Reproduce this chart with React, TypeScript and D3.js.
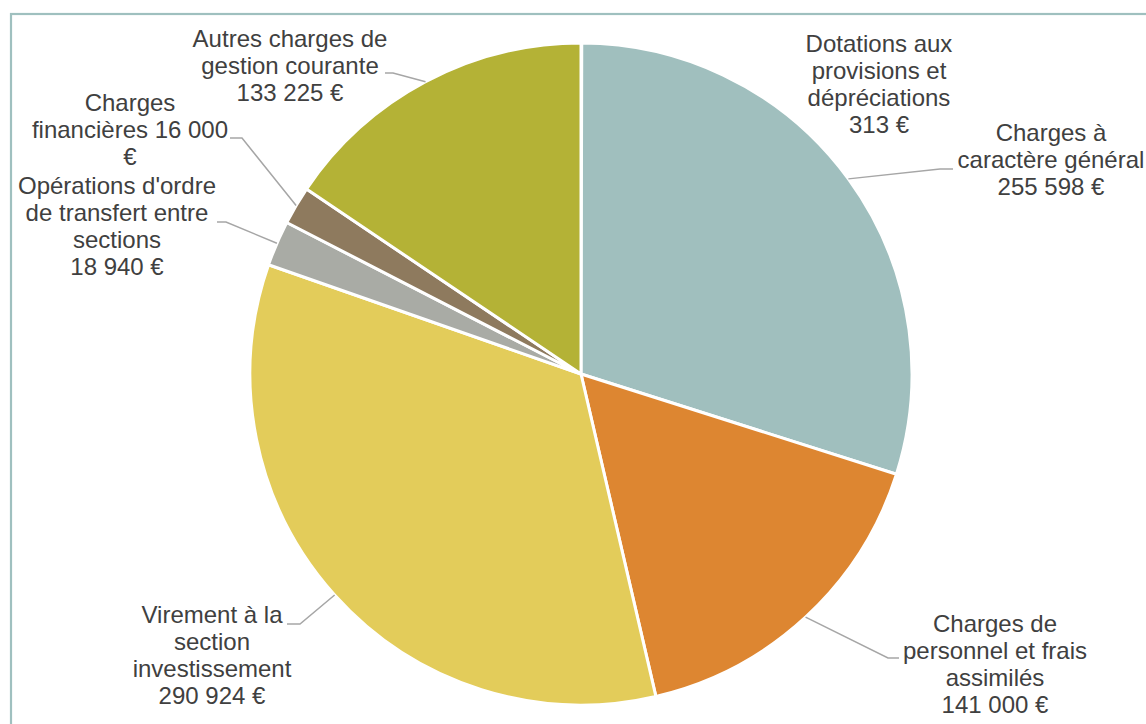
import React, { useEffect, useRef } from 'react';
import * as d3 from 'd3';

// Budget de fonctionnement - dépenses
const categories = [
  "Dotations aux provisions et dépréciations",
  "Charges à caractère général",
  "Charges de personnel et frais assimilés",
  "Virement à la section investissement",
  "Opérations d'ordre de transfert entre sections",
  "Charges financières",
  "Autres charges de gestion courante",
];
const values = [313, 255598, 141000, 290924, 18940, 16000, 133225];
const colors = ["#8fb0af", "#a0bfbe", "#dd8631", "#e3cc5a", "#a9aba5", "#8e7a5e", "#b4b236"];

// label placement (as in the original chart), words per line
const labelLayout = [
  { cx: 879, y: 52, words: [2, 2, 1, 2], leader: null },
  { cx: 1051, y: 141, words: [2, 2, 3], leader: { x: 953, elbowX: 940, y: 169 } },
  { cx: 995, y: 632, words: [2, 3, 1, 3], leader: { x: 899, elbowX: 888, y: 658 } },
  { cx: 212, y: 623, words: [3, 1, 1, 3], leader: { x: 287, elbowX: 300, y: 624 } },
  { cx: 117, y: 194, words: [2, 3, 1, 3], leader: { x: 217, elbowX: 226, y: 222 } },
  { cx: 130, y: 111, words: [1, 3, 1], leader: { x: 230, elbowX: 242, y: 138 } },
  { cx: 290, y: 47, words: [3, 2, 3], leader: { x: 385, elbowX: 393, y: 73 } },
];

const width = 1146;
const height = 724;
const cx = 581;
const cy = 374;
const radius = 331;
const lineHeight = 27;

const frLocale = d3.formatLocale({ decimal: ",", thousands: " ", grouping: [3], currency: ["", " €"] });
const fmt = frLocale.format("$,.0f");

export default function App() {
  const svgRef = useRef<SVGSVGElement>(null);

  useEffect(() => {
    const svg = d3.select(svgRef.current);
    svg.selectAll("*").remove();

    // chart frame
    svg.append("rect")
      .attr("x", 11)
      .attr("y", 14)
      .attr("width", width + 20)
      .attr("height", height + 20)
      .attr("fill", "#ffffff")
      .attr("stroke", "#9fc0bf")
      .attr("stroke-width", 2.2);

    const data = categories.map((c, i) => ({ name: c, value: values[i], i }));

    const pie = d3.pie<any>().sort(null).value(d => d.value);
    const arcs = pie(data);
    const arc = d3.arc<any>().innerRadius(0).outerRadius(radius);
    const edge = d3.arc<any>().innerRadius(radius).outerRadius(radius);

    const g = svg.append("g").attr("transform", `translate(${cx},${cy})`);

    g.selectAll("path")
      .data(arcs)
      .enter()
      .append("path")
      .attr("d", arc)
      .attr("fill", d => colors[d.data.i])
      .attr("stroke", "#ffffff")
      .attr("stroke-width", 3)
      .attr("stroke-linejoin", "round");

    // leader lines
    arcs.forEach(a => {
      const lay = labelLayout[a.data.i];
      if (!lay.leader) return;
      const [ex, ey] = edge.centroid(a);
      const pts: [number, number][] = [
        [cx + ex, cy + ey],
        [lay.leader.elbowX, lay.leader.y],
        [lay.leader.x, lay.leader.y],
      ];
      svg.append("path")
        .attr("d", d3.line()(pts))
        .attr("fill", "none")
        .attr("stroke", "#a6a6a6")
        .attr("stroke-width", 1.5);
    });

    // labels
    arcs.forEach(a => {
      const lay = labelLayout[a.data.i];
      const words = `${a.data.name} ${fmt(a.data.value)}`.split(" ");
      const lines: string[] = [];
      let k = 0;
      lay.words.forEach(n => {
        lines.push(words.slice(k, k + n).join(" "));
        k += n;
      });
      const t = svg.append("text")
        .attr("text-anchor", "middle")
        .attr("font-family", "'Liberation Sans', Arial, sans-serif")
        .attr("font-size", 24)
        .attr("fill", "#404040");
      lines.forEach((ln, j) => {
        t.append("tspan")
          .attr("x", lay.cx)
          .attr("y", lay.y + j * lineHeight)
          .text(ln);
      });
    });
  }, []);

  return (
    <div>
      <style>{`body{margin:0;}`}</style>
      <svg ref={svgRef} width={width} height={height} style={{ display: "block" }}></svg>
    </div>
  );
}
